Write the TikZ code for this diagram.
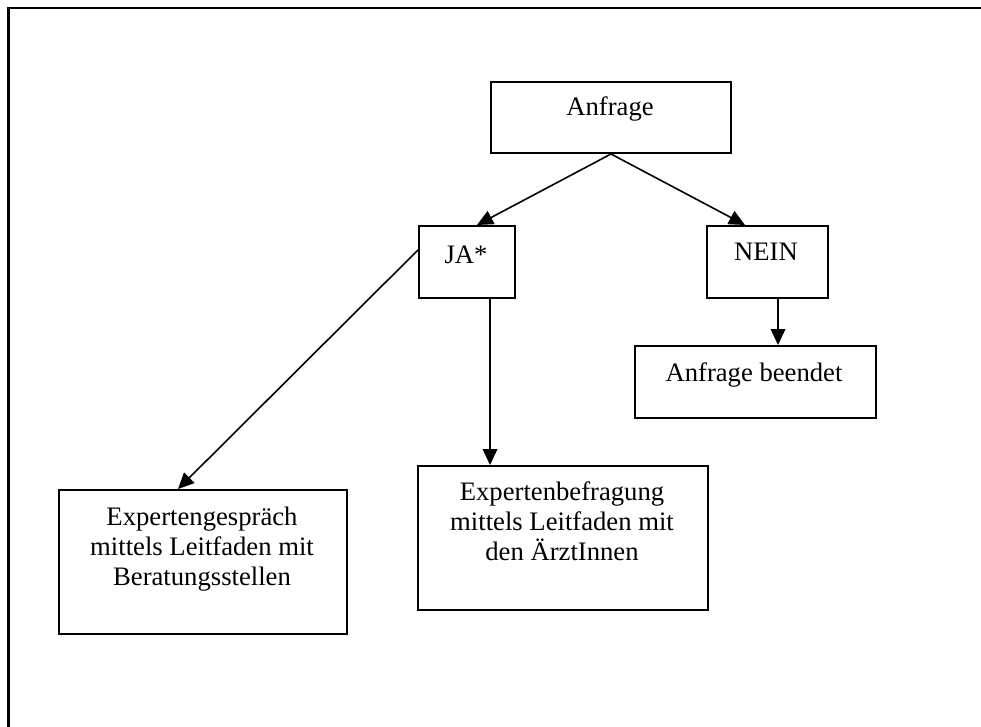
\documentclass[tikz,border=0pt]{standalone}
\usepackage{fontspec}
\setmainfont{Liberation Serif}
\usetikzlibrary{arrows.meta,calc}
\tikzset{
  box/.style={draw, line width=1.5pt, inner sep=0pt, anchor=north west},
  lbl/.style={anchor=base, inner sep=0pt, font=\fontsize{20}{22.5}\selectfont},
  conn/.style={line width=1.2pt, -{Triangle[length=12pt,width=11pt]}},
}
\newcommand{\ml}[1]{\begin{tabular}[t]{@{}c@{}}#1\end{tabular}}
\begin{document}
\begin{tikzpicture}[x=0.75pt,y=-0.75pt]
\useasboundingbox (0,0) rectangle (981,727);
\draw[line width=1.8pt] (8.5,727) -- (8.5,8) -- (981,8);

\node[box, minimum width=240*0.75pt, minimum height=71*0.75pt] (anf) at (490,81) {};
\node[box, minimum width=96*0.75pt, minimum height=72*0.75pt] (ja) at (418,225) {};
\node[box, minimum width=121*0.75pt, minimum height=72*0.75pt] (nein) at (706,225) {};
\node[box, minimum width=241*0.75pt, minimum height=72*0.75pt] (end) at (634,345) {};
\node[box, minimum width=288*0.75pt, minimum height=144*0.75pt] (gesp) at (58,489) {};
\node[box, minimum width=290*0.75pt, minimum height=144*0.75pt] (befr) at (417,465) {};

\node[lbl] (tanf) at (610,116) {Anfrage};
\node[lbl] (tja) at (466,263) {JA*};
\node[lbl] (tnein) at (766,261) {NEIN};
\node[lbl] (tend) at (754,381) {Anfrage beendet};
\node[lbl] (tgesp) at (202,525) {\ml{Expertengespräch\\mittels Leitfaden mit\\Beratungsstellen}};
\node[lbl] (tbefr) at (562,500) {\ml{Expertenbefragung\\mittels Leitfaden mit\\den ÄrztInnen}};

\draw[conn] (anf.south) -- ($(ja.north west)+(59,0)$);
\draw[conn] (anf.south) -- ($(nein.north west)+(39,0)$);
\draw[conn] ($(ja.north west)+(0,25)$) -- ($(gesp.north west)+(120,0)$);
\draw[conn] ($(ja.south west)+(72,0)$) -- ($(befr.north west)+(73,0)$);
\draw[conn] ($(nein.south west)+(72,0)$) -- ($(end.north west)+(144,0)$);
\end{tikzpicture}
\end{document}
